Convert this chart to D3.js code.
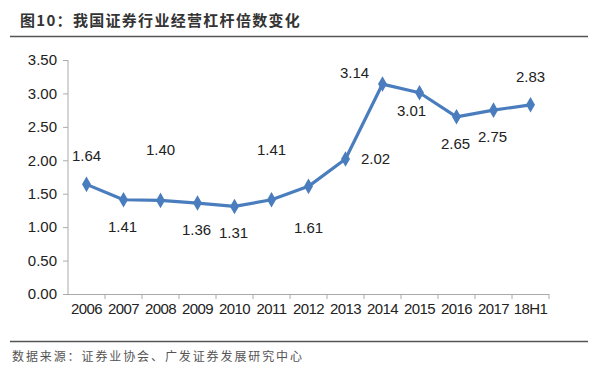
<!DOCTYPE html>
<html>
<head>
<meta charset="utf-8">
<script src="https://cdn.jsdelivr.net/npm/d3@7"></script>
<style>
  body { margin: 0; background: #fff; }
  text { font-family: "Liberation Sans", Arial, sans-serif; fill: #222; }
  .cjk { font-family: "Noto Sans CJK SC", sans-serif; }
</style>
</head>
<body>
<svg id="chart" width="590" height="374"></svg>
<script>
// categories and values
var years = ["2006", "2007", "2008", "2009", "2010", "2011", "2012", "2013", "2014", "2015", "2016", "2017", "18H1"];
var leverage = [1.64, 1.41, 1.40, 1.36, 1.31, 1.41, 1.61, 2.02, 3.14, 3.01, 2.65, 2.75, 2.83];
var yTicks = [0, 0.5, 1, 1.5, 2, 2.5, 3, 3.5];
// where each value label sits relative to its point
var labelPlace = ["up", "down", "upHigh", "down", "down", "upHigh", "downLow", "right", "upLeft", "downLeft", "down", "down", "up"];

var titleText = "图10：我国证券行业经营杠杆倍数变化";
var sourceText = "数据来源：证券业协会、广发证券发展研究中心";

var lineColor = "#4a7dbd";
var margin = {left: 68, right: 41, top: 60, bottom: 80};
var width = 590, height = 374;

var svg = d3.select("#chart");

var x = d3.scaleBand()
    .domain(years)
    .range([margin.left, width - margin.right]);

var y = d3.scaleLinear()
    .domain([0, 3.5])
    .range([height - margin.bottom, margin.top]);

// title + rules
svg.append("text")
    .attr("class", "cjk")
    .attr("x", 20)
    .attr("y", 26)
    .style("font-size", "15px")
    .style("font-weight", "bold")
    .style("letter-spacing", "1.3px")
    .style("fill", "#333")
    .text(titleText);

svg.append("line")
    .attr("x1", 10).attr("x2", 588)
    .attr("y1", 36.5).attr("y2", 36.5)
    .style("stroke", "#555").style("stroke-width", 1.5);

svg.append("line")
    .attr("x1", 10).attr("x2", 588)
    .attr("y1", 341.5).attr("y2", 341.5)
    .style("stroke", "#555").style("stroke-width", 1.5);

svg.append("text")
    .attr("class", "cjk")
    .attr("x", 12)
    .attr("y", 361)
    .style("font-size", "12px")
    .style("letter-spacing", "1.9px")
    .style("fill", "#555")
    .text(sourceText);

// y axis
var yAxis = svg.append("g")
    .attr("transform", "translate(" + margin.left + ",0)")
    .call(d3.axisLeft(y).tickValues(yTicks).tickSize(5).tickPadding(6).tickFormat(d3.format(".2f")));
yAxis.selectAll("text").style("font-size", "15px").style("fill", "#222");
yAxis.selectAll("line, path").style("stroke", "#aaa");
yAxis.select(".domain").attr("d", "M0," + y(3.5) + "V" + y(0));

// x axis, ticks between categories
var xAxis = svg.append("g")
    .attr("transform", "translate(0," + y(0) + ")")
    .call(d3.axisBottom(x).tickSize(0).tickPadding(9));
xAxis.selectAll("text").style("font-size", "15px").style("fill", "#222").style("letter-spacing", "-0.6px");
xAxis.select(".domain").style("stroke", "#aaa").attr("d", "M" + (margin.left - 5) + ",0.5H" + (width - margin.right));
xAxis.selectAll(".sep")
    .data(years)
    .enter()
    .append("line")
    .attr("class", "sep")
    .attr("x1", function (d) { return x(d) + x.bandwidth(); })
    .attr("x2", function (d) { return x(d) + x.bandwidth(); })
    .attr("y1", 0).attr("y2", 5)
    .style("stroke", "#aaa");

// line
var line = d3.line()
    .x(function (d, i) { return x(years[i]) + x.bandwidth() / 2; })
    .y(function (d) { return y(d); });

svg.append("path")
    .datum(leverage)
    .attr("d", line)
    .style("fill", "none")
    .style("stroke", lineColor)
    .style("stroke-width", 3.2)
    .style("stroke-linejoin", "round");

svg.selectAll(".pt")
    .data(leverage)
    .enter()
    .append("path")
    .attr("class", "pt")
    .attr("d", d3.symbol().type(d3.symbolDiamond).size(70))
    .attr("transform", function (d, i) {
        return "translate(" + (x(years[i]) + x.bandwidth() / 2) + "," + y(d) + ")";
    })
    .style("fill", lineColor);

// value labels
var offsets = {
    up: [0, -23], upHigh: [0, -45], down: [-1, 32], downLow: [0, 47],
    right: [30, 5], upLeft: [-28, -6], downLeft: [-8, 23]
};

svg.selectAll(".lbl")
    .data(leverage)
    .enter()
    .append("text")
    .attr("class", "lbl")
    .attr("x", function (d, i) { return x(years[i]) + x.bandwidth() / 2 + offsets[labelPlace[i]][0]; })
    .attr("y", function (d, i) { return y(d) + offsets[labelPlace[i]][1]; })
    .attr("text-anchor", "middle")
    .style("font-size", "15px")
    .style("fill", "#222")
    .text(function (d) { return d.toFixed(2); });
</script>
</body>
</html>
